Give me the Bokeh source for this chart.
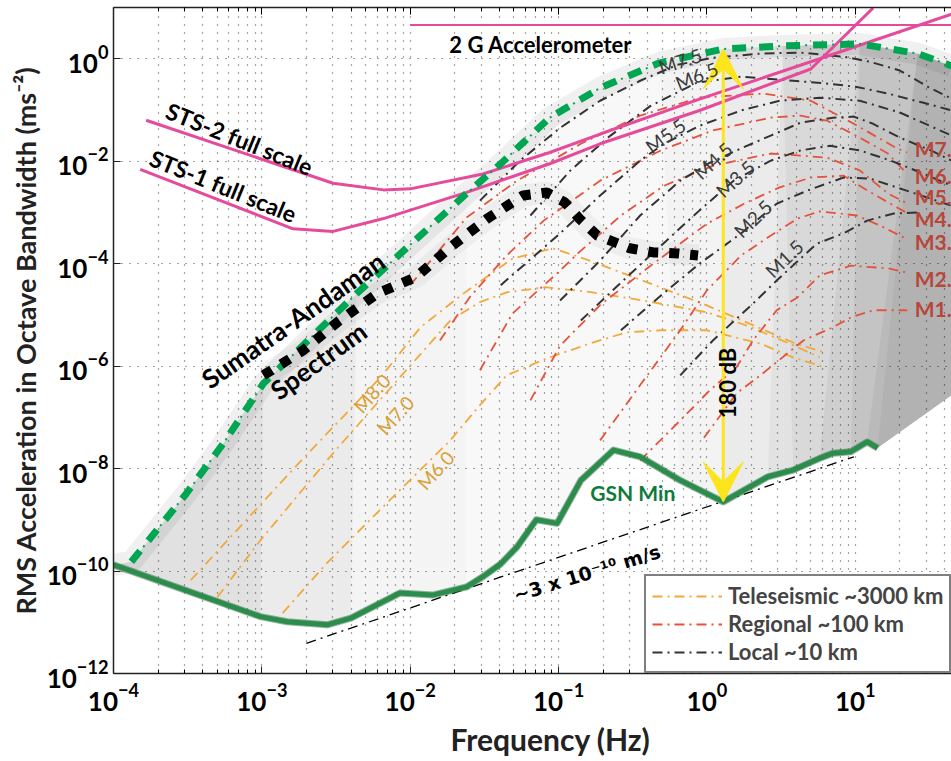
from bokeh.plotting import figure
from bokeh.models import Range1d, FixedTicker, LogAxis, Label, Arrow, VeeHead, Legend, LegendItem, Title
from bokeh.embed import file_html
from bokeh.resources import INLINE

FONT = "Lato"

# ---------------- data: log10(frequency / Hz), log10(RMS acceleration / m s^-2) ----------------
GSN_LOGF = [-4.00, -3.01, -2.83, -2.56, -2.40, -2.07, -1.85, -1.62, -1.51, -1.39, -1.28, -1.15, -1.01,
            -0.85, -0.63, -0.45, -0.18, 0.11, 0.41, 0.58, 0.76, 0.85, 0.97, 1.08, 1.15]
GSN_LOGA = [-9.88, -10.89, -10.99, -11.05, -10.92, -10.43, -10.47, -10.31, -10.11, -9.86, -9.53, -9.00, -9.07,
            -8.23, -7.64, -7.77, -8.23, -8.65, -8.16, -8.03, -7.80, -7.70, -7.67, -7.48, -7.60]

ENV_LOGF = [-4.00, -3.88, -3.51, -3.26, -2.99, -2.36, -1.62, -1.39, -1.06, -0.72, -0.32, 0.11, 0.51, 1.03, 1.42, 1.65]
ENV_LOGA = [-9.88, -9.82, -8.49, -7.51, -6.34, -4.58, -2.63, -2.05, -1.15, -0.57, -0.08, 0.19, 0.25, 0.29, 0.10, -0.14]
SHADE_TAIL_LOGF = [1.65]
SHADE_TAIL_LOGA = [-6.57]

SUM_LOGF = [-2.99, -2.72, -2.49, -2.22, -1.96, -1.73, -1.48, -1.24, -1.08, -0.96, -0.86, -0.74, -0.65,
            -0.52, -0.36, -0.20, -0.06]
SUM_LOGA = [-6.18, -5.69, -5.14, -4.58, -4.26, -3.68, -3.12, -2.67, -2.61, -2.80, -3.12, -3.45, -3.55,
            -3.70, -3.78, -3.80, -3.84]

STS2_LOGF = [-3.78, -2.52, -2.18, -2.00, -1.51, -1.06, -0.72, -0.05, 0.76, 1.65]
STS2_LOGA = [-1.20, -2.43, -2.56, -2.54, -2.25, -1.83, -1.47, -0.79, 0.00, 0.87]
STS1_LOGF = [-3.82, -2.79, -2.52, -2.18, -1.62, -1.06, -0.72, -0.05, 0.70, 1.12]
STS1_LOGA = [-2.16, -3.32, -3.37, -3.12, -2.61, -2.05, -1.66, -1.01, -0.20, 0.99]
ACC2G_LOGF = [-2.00, 1.65]
ACC2G_LOGA = [0.66, 0.66]
VEL_LOGF = [-2.70, 0.99]
VEL_LOGA = [-11.41, -7.77]

TELE = {
    "M8.0": ([-3.48, -2.74, -2.20, -1.93, -1.64, -1.31, -1.04, -0.83, -0.38, -0.03, 0.27, 0.58, 0.79],
             [-10.18, -7.86, -6.22, -5.24, -4.58, -3.90, -3.70, -3.90, -4.39, -4.78, -5.15, -5.54, -5.73]),
    "M7.0": ([-3.30, -3.01, -2.52, -2.07, -1.73, -1.53, -1.35, -1.09, -0.77, -0.43, 0.00, 0.27, 0.58, 0.76],
             [-10.51, -9.40, -7.70, -6.22, -5.11, -4.75, -4.56, -4.46, -4.56, -4.72, -4.95, -5.21, -5.59, -5.83]),
    "M6.0": ([-2.86, -2.56, -2.07, -1.73, -1.53, -1.35, -1.08, -0.77, -0.54, -0.31, 0.00, 0.36, 0.58, 0.79],
             [-10.82, -9.84, -8.42, -7.45, -6.76, -6.18, -5.85, -5.54, -5.34, -5.30, -5.30, -5.56, -5.83, -6.02]),
}
REGIONAL = {
    "M7.0": ([-2.00, -1.62, -1.28, -0.85, -0.45, -0.05, 0.38, 0.70, 0.99, 1.28, 1.35],
             [-4.42, -3.10, -2.38, -1.66, -1.11, -0.76, -0.68, -0.82, -1.27, -1.75, -1.83]),
    "M6.0": ([-1.80, -1.60, -1.35, -1.10, -0.72, -0.31, 0.04, 0.43, 0.63, 0.81, 1.03, 1.22, 1.34],
             [-5.50, -4.66, -3.84, -3.16, -2.38, -1.79, -1.40, -1.15, -1.11, -1.21, -1.54, -1.85, -2.22]),
    "M5.0": ([-1.53, -1.31, -1.01, -0.87, -0.58, -0.29, 0.04, 0.43, 0.81, 1.03, 1.22, 1.34],
             [-6.08, -4.97, -4.19, -3.80, -3.06, -2.48, -2.09, -1.85, -1.93, -2.18, -2.63, -2.81]),
    "M4.0": ([-1.19, -0.99, -0.72, -0.38, 0.00, 0.25, 0.49, 0.70, 0.92, 1.08, 1.34],
             [-6.67, -5.60, -4.81, -4.04, -3.22, -2.83, -2.51, -2.32, -2.28, -2.57, -3.00]),
    "M3.0": ([-0.72, -0.45, -0.18, 0.00, 0.23, 0.41, 0.61, 0.76, 1.01, 1.17, 1.34],
             [-7.45, -6.37, -5.30, -4.52, -3.84, -3.49, -3.12, -2.98, -3.06, -3.26, -3.51]),
    "M2.0": ([-0.45, -0.18, 0.02, 0.20, 0.31, 0.47, 0.61, 0.76, 0.97, 1.22, 1.34],
             [-7.84, -7.06, -6.47, -6.02, -5.50, -4.91, -4.66, -4.23, -4.04, -4.09, -4.17]),
    "M1.0": ([-0.02, 0.20, 0.36, 0.65, 0.85, 0.97, 1.12, 1.35],
             [-7.40, -6.53, -6.18, -5.50, -5.24, -5.05, -4.91, -4.91]),
}
LOCAL = {
    "M7.5": ([-1.53, -1.26, -0.99, -0.72, -0.45, -0.20, 0.04, 0.36, 0.63, 0.92, 1.10, 1.30, 1.49, 1.65],
             [-2.77, -1.99, -1.35, -0.82, -0.43, -0.12, 0.02, 0.10, 0.12, 0.04, -0.06, -0.23, -0.55, -0.78]),
    "M6.5": ([-1.19, -0.92, -0.65, -0.38, -0.07, 0.23, 0.58, 0.83, 1.01, 1.22, 1.46, 1.65],
             [-3.06, -2.18, -1.50, -0.92, -0.47, -0.35, -0.43, -0.49, -0.55, -0.68, -0.86, -1.01]),
    "M5.5": ([-1.39, -0.99, -0.72, -0.45, -0.29, -0.05, 0.23, 0.49, 0.76, 1.03, 1.30, 1.65],
             [-4.42, -3.41, -2.67, -1.99, -1.66, -1.31, -1.01, -0.82, -0.76, -0.82, -1.05, -1.50]),
    "M4.5": ([-0.99, -0.72, -0.45, -0.18, 0.02, 0.23, 0.43, 0.63, 0.85, 0.99, 1.12, 1.30, 1.51, 1.65],
             [-4.72, -3.94, -3.06, -2.38, -2.03, -1.75, -1.50, -1.25, -1.15, -1.13, -1.27, -1.54, -1.79, -1.99]),
    "M3.5": ([-0.85, -0.58, -0.31, -0.05, 0.18, 0.43, 0.63, 0.83, 1.03, 1.24, 1.44, 1.65],
             [-5.11, -4.37, -3.65, -2.96, -2.38, -1.99, -1.79, -1.70, -1.79, -1.99, -2.22, -2.48]),
    "M2.5": ([-0.58, -0.31, -0.05, 0.23, 0.47, 0.68, 0.92, 1.10, 1.34, 1.65],
             [-5.30, -4.62, -4.00, -3.41, -2.83, -2.57, -2.32, -2.34, -2.57, -2.87]),
    "M1.5": ([-0.18, 0.04, 0.31, 0.47, 0.74, 0.92, 1.08, 1.26, 1.44],
             [-6.18, -5.50, -4.78, -4.33, -3.61, -3.41, -3.16, -3.02, -3.00]),
}

ARROW_LOGF = 0.11
ARROW_LOGA = [-8.65, 0.19]

X_TICK_EXP = [-4, -3, -2, -1, 0, 1]
Y_TICK_EXP = [-12, -10, -8, -6, -4, -2, 0]

# colours
PINK = "#e64b9b"
GREEN = "#00a651"
GSN_GREEN = "#2c8c4c"
ORANGE = "#f2a93b"
RED = "#e5533d"
DARK = "#333333"
YELLOW = "#fce51c"


def ex(v):
    return [10.0 ** t for t in v]


p = figure(width=951, height=761, x_axis_type="log", y_axis_type="log",
           x_range=Range1d(1e-4, 44.5), y_range=Range1d(1e-12, 10.0),
           output_backend="svg", toolbar_location=None,
           min_border_left=113, min_border_right=0, min_border_top=7, min_border_bottom=88)
p.outline_line_color = None
p.background_fill_color = "white"
p.border_fill_color = "white"

xticker = FixedTicker(ticks=[10.0 ** e for e in X_TICK_EXP],
                      minor_ticks=[m * 10.0 ** e for e in range(-4, 2) for m in range(2, 10)])
yticker = FixedTicker(ticks=[10.0 ** e for e in Y_TICK_EXP], minor_ticks=[])
p.xaxis.ticker = xticker
p.yaxis.ticker = yticker
p.xgrid.ticker = xticker
p.ygrid.ticker = yticker

for g in (p.xgrid, p.ygrid):
    g.grid_line_color = "black"
    g.grid_line_dash = "1 7"
    g.grid_line_width = 1.2
    g.grid_line_alpha = 0.7
p.xgrid.minor_grid_line_color = "black"
p.xgrid.minor_grid_line_dash = "1 7"
p.xgrid.minor_grid_line_width = 1.2
p.xgrid.minor_grid_line_alpha = 0.7

for ax in (p.xaxis, p.yaxis):
    ax.axis_line_color = "#222222"
    ax.axis_line_width = 1.5
    ax.major_tick_in = 7
    ax.major_tick_out = 0
    ax.major_tick_line_color = "#222222"
    ax.minor_tick_in = 4
    ax.minor_tick_out = 0
    ax.major_label_text_font = FONT
    ax.major_label_text_font_style = "bold"
    ax.major_label_text_font_size = "26px"
    ax.major_label_text_color = "black"
    ax.axis_label_text_font = FONT
    ax.axis_label_text_font_style = "bold"
    ax.axis_label_text_font_size = "27px"
    ax.axis_label_text_color = "#222222"
p.yaxis.minor_tick_line_color = None
p.xaxis.major_label_standoff = 9
p.yaxis.major_label_standoff = 5
p.yaxis.axis_label = "RMS Acceleration in Octave Bandwidth (ms\u207b\u00b2)"
p.yaxis.axis_label_standoff = 2

top = LogAxis(ticker=xticker, major_label_text_font_size="1px", major_label_text_alpha=0.0,
              major_label_standoff=0,
              major_tick_in=7, major_tick_out=0, minor_tick_in=4, minor_tick_out=0,
              axis_line_color="#222222", axis_line_width=1.5)
p.add_layout(top, "above")

xlabel = Title(text="Frequency (Hz)", align="left", offset=337, text_font=FONT,
               text_font_size="30px", text_font_style="bold", text_color="#222222", standoff=10)
p.add_layout(xlabel, "below")

# ---------------- shaded earthquake region ----------------
low_lf = GSN_LOGF + SHADE_TAIL_LOGF
low_la = GSN_LOGA + SHADE_TAIL_LOGA
p.patch(ex(ENV_LOGF + low_lf[::-1]), ex(ENV_LOGA + low_la[::-1]),
        fill_color="#f8f8f8", line_color=None, level="image")
for e0, l0, a in [(10, 16, 0.02), (11, 17, 0.03), (12, 18, 0.035), (12, 19, 0.04),
                  (13, 20, 0.045), (13, 22, 0.05), (14, 23, 0.05), (14, 24, 0.04)]:
    p.patch(ex(ENV_LOGF[e0:] + low_lf[l0:][::-1]), ex(ENV_LOGA[e0:] + low_la[l0:][::-1]),
            fill_color="black", fill_alpha=a, line_color=None, level="image")
for e1, l1, a in [(7, 8, 0.015), (6, 5, 0.035), (5, 2, 0.04)]:
    p.patch(ex(ENV_LOGF[:e1] + GSN_LOGF[:l1][::-1]), ex(ENV_LOGA[:e1] + GSN_LOGA[:l1][::-1]),
            fill_color="black", fill_alpha=a, line_color=None, level="image")
p.line(ex(ENV_LOGF), ex(ENV_LOGA), line_color="black", line_alpha=0.06, line_width=22, level="image")
p.line(ex(SUM_LOGF), ex(SUM_LOGA), line_color="black", line_alpha=0.04, line_width=22, level="image")

# ---------------- magnitude model curves ----------------
DASH = "10 5 2 5"
tele_r, reg_r, loc_r = [], [], []
for k, (lf, la) in TELE.items():
    tele_r.append(p.line(ex(lf), ex(la), line_color=ORANGE, line_width=1.8, line_dash=DASH))
for k, (lf, la) in REGIONAL.items():
    reg_r.append(p.line(ex(lf), ex(la), line_color=RED, line_width=1.8, line_dash=DASH))
for k, (lf, la) in LOCAL.items():
    loc_r.append(p.line(ex(lf), ex(la), line_color=DARK, line_width=2, line_dash=DASH))

# ---------------- instrument limits ----------------
p.line(ex(ACC2G_LOGF), ex(ACC2G_LOGA), line_color=PINK, line_width=2)
p.line(ex(STS2_LOGF), ex(STS2_LOGA), line_color=PINK, line_width=3)
p.line(ex(STS1_LOGF), ex(STS1_LOGA), line_color=PINK, line_width=3)

p.line(ex(VEL_LOGF), ex(VEL_LOGA), line_color="black", line_width=1.3, line_dash="10 5 2 5")

# GSN minimum
p.line(ex(GSN_LOGF), ex(GSN_LOGA), line_color="#1f6e3a", line_width=7, line_alpha=0.5, line_join="round")
p.line(ex(GSN_LOGF), ex(GSN_LOGA), line_color=GSN_GREEN, line_width=5, line_join="round")

# upper envelope (green dash + thin tick)
p.line(ex(ENV_LOGF[1:]), ex(ENV_LOGA[1:]), line_color=GREEN, line_width=7, line_dash="14 13")
p.line(ex(ENV_LOGF[1:]), ex(ENV_LOGA[1:]), line_color=GREEN, line_width=2, line_dash="2 25",
       line_dash_offset=-19)

# Sumatra-Andaman spectrum
p.line(ex(SUM_LOGF), ex(SUM_LOGA), line_color="black", line_width=10, line_dash="10 11")

# 180 dB arrow
arrow = Arrow(x_start=10 ** ARROW_LOGF, y_start=10 ** ARROW_LOGA[0],
              x_end=10 ** ARROW_LOGF, y_end=10 ** ARROW_LOGA[1],
              line_color=YELLOW, line_width=3,
              start=VeeHead(size=40, fill_color=YELLOW, line_color=YELLOW, line_width=1),
              end=VeeHead(size=40, fill_color=YELLOW, line_color=YELLOW, line_width=1))
p.add_layout(arrow)


# ---------------- text ----------------
def lab(text, lf, la, size, color="black", angle=0, bold=True, align="center", font=FONT):
    p.add_layout(Label(x=10 ** lf, y=10 ** la, text=text, text_font=font,
                       text_font_size=f"{size}px", text_font_style="bold" if bold else "normal",
                       text_color=color, angle=angle, angle_units="deg",
                       text_align=align, text_baseline="middle"))


lab("2 G Accelerometer", -1.12, 0.27, 22)
lab("STS-2 full scale", -3.15, -1.56, 23, angle=-22)
lab("STS-1 full scale", -3.26, -2.48, 23, angle=-22)
lab("Sumatra-Andaman", -2.79, -5.10, 26, angle=35)
lab("Spectrum", -2.62, -5.89, 26, angle=36)
lab("GSN Min", -0.50, -8.46, 21, color="#0e7a3b")
lab("~3 x 10\u207b\u00b9\u2070 m/s", -0.81, -10.04, 19, angle=17, font="DejaVu Sans")
lab("180 dB", 0.14, -6.33, 22, angle=90)

local_pos = {"M7.5": (-0.18, -0.04, 18), "M6.5": (-0.07, -0.33, 22), "M5.5": (-0.28, -1.50, 36),
             "M4.5": (0.04, -1.99, 42), "M3.5": (0.19, -2.34, 42), "M2.5": (0.31, -3.12, 44),
             "M1.5": (0.52, -3.90, 44)}
for t, (lf, la, ang) in local_pos.items():
    lab(t, lf, la, 19, color="#3c3c3c", angle=ang, bold=False)

tele_pos = {"M8.0": (-2.26, -6.53), "M7.0": (-2.10, -6.96), "M6.0": (-1.83, -8.03)}
for t, (lf, la) in tele_pos.items():
    lab(t, lf, la, 19, color="#d9a035", angle=48, bold=False)

reg_pos = {"M7.": -1.75, "M6.": -2.28, "M5.": -2.69, "M4.": -3.12, "M3.": -3.57,
           "M2.": -4.29, "M1.": -4.87}
for t, la in reg_pos.items():
    lab(t, 1.40, la, 21, color="#b8463a", align="left")

# ---------------- legend ----------------
legend = Legend(items=[LegendItem(label="Teleseismic ~3000 km", renderers=[tele_r[0]]),
                       LegendItem(label="Regional ~100 km", renderers=[reg_r[0]]),
                       LegendItem(label="Local ~10 km", renderers=[loc_r[0]])],
                location=(531, 0))
legend.border_line_color = "black"
legend.border_line_width = 2
legend.background_fill_color = "white"
legend.background_fill_alpha = 1.0
legend.label_text_font = FONT
legend.label_text_font_style = "bold"
legend.label_text_font_size = "22px"
legend.glyph_width = 70
legend.glyph_height = 26
legend.label_height = 26
legend.spacing = 1
legend.padding = 6
legend.margin = 0
legend.label_standoff = 6
p.add_layout(legend)

open("out.html", "w").write(file_html(p, INLINE))
